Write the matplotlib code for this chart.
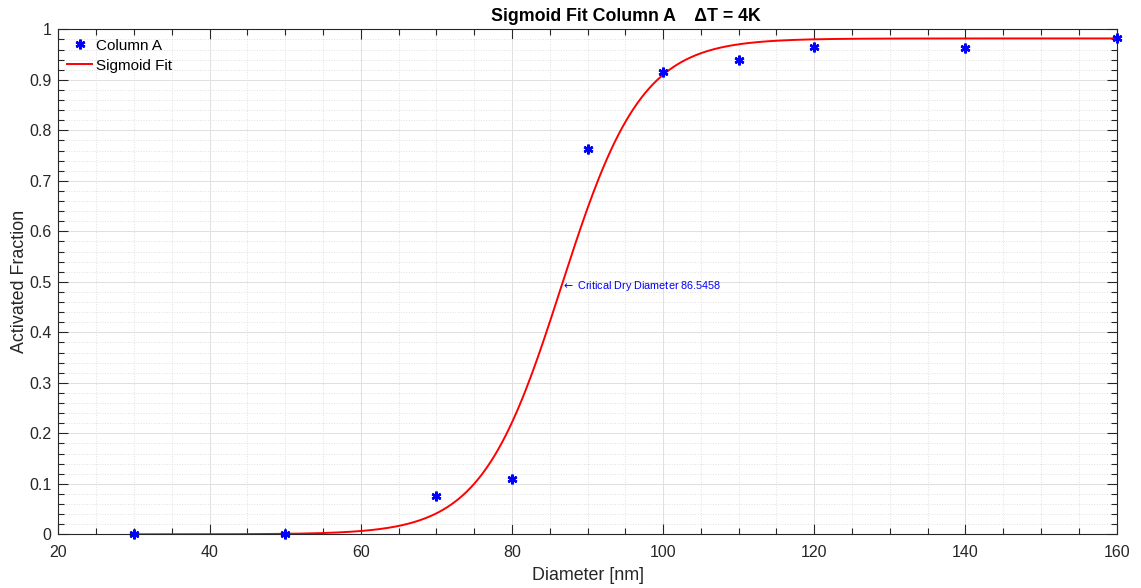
# sigmoid fit of activated fraction vs diameter
import numpy as np
import matplotlib
matplotlib.use('Agg')
import matplotlib.pyplot as plt
from matplotlib.ticker import MultipleLocator

# data
diameter = [30, 50, 70, 80, 90, 100, 110, 120, 140, 160]
activated = [0.0, 0.0, 0.075, 0.11, 0.763, 0.915, 0.94, 0.965, 0.963, 0.983]

# fit parameters (a / (1 + exp(-(x - x0) / b)))
fit_a = 0.982
fit_x0 = 86.5458
fit_b = 5.3
fit_range = [30, 160]

x_ticks = [20, 40, 60, 80, 100, 120, 140, 160]
y_ticks = [0, 0.1, 0.2, 0.3, 0.4, 0.5, 0.6, 0.7, 0.8, 0.9, 1]
y_ticklabels = ['0', '0.1', '0.2', '0.3', '0.4', '0.5', '0.6', '0.7', '0.8', '0.9', '1']

# modify default configurations
plt.rcParams['font.family'] = ['Liberation Sans', 'DejaVu Sans']
axcol = '#262626'

fig = plt.figure(figsize=(11.41, 5.88), dpi=100)
ax = fig.add_axes([0.0511, 0.0913, 0.9276, 0.8588])

xf = np.linspace(fit_range[0], fit_range[1], 500)
yf = fit_a / (1 + np.exp(-(xf - fit_x0) / fit_b))

ax.plot(diameter, activated,
        linestyle='none',
        marker=(6, 2, 0),
        markersize=7,
        markeredgewidth=1.8,
        color='#0000ff',
        label='Column A',
        clip_on=False,
        zorder=4)

ax.plot(xf, yf,
        color='#ff0000',
        linewidth=1.4,
        label='Sigmoid Fit',
        zorder=3)

ax.text(fit_x0, fit_a / 2, r'$\leftarrow$ Critical Dry Diameter %.4f' % fit_x0,
        color='#0000ff', fontsize=7.8, ha='left', va='center')

ax.set(xlim=[20, 160], ylim=[0, 1])
ax.set_xticks(x_ticks)
ax.set_yticks(y_ticks)
ax.set_yticklabels(y_ticklabels)
ax.xaxis.set_minor_locator(MultipleLocator(5))
ax.yaxis.set_minor_locator(MultipleLocator(0.02))

ax.grid(which='major', color='#e0e0e0', linewidth=0.7, linestyle='-')
ax.grid(which='minor', color='#e0e0e0', linewidth=0.7, linestyle=':')
ax.set_axisbelow(True)

ax.tick_params(axis='both', which='both', direction='in',
               top=True, right=True, color=axcol, labelcolor=axcol,
               labelsize=11.5, pad=5)
ax.tick_params(axis='x', which='major', pad=8)
ax.tick_params(which='major', length=7, width=0.8)
ax.tick_params(which='minor', length=4, width=0.8)

for k in ax.spines:
    ax.spines[k].set_color(axcol)
    ax.spines[k].set_linewidth(0.8)

ax.set_xlabel('Diameter [nm]', fontsize=12.9, color=axcol, labelpad=5)
ax.set_ylabel('Activated Fraction', fontsize=12.9, color=axcol)
ax.yaxis.set_label_coords(-0.029, 0.5)
ax.set_title('Sigmoid Fit Column A    \u0394T = 4K', fontsize=12.8,
             fontweight='bold', x=0.536, pad=6)

ax.legend(loc='upper left', frameon=False, fontsize=11,
          handlelength=1.6, borderaxespad=0.3, labelspacing=0.4,
          handletextpad=0.3, borderpad=0.3)

plt.savefig('out.png', dpi=100)
